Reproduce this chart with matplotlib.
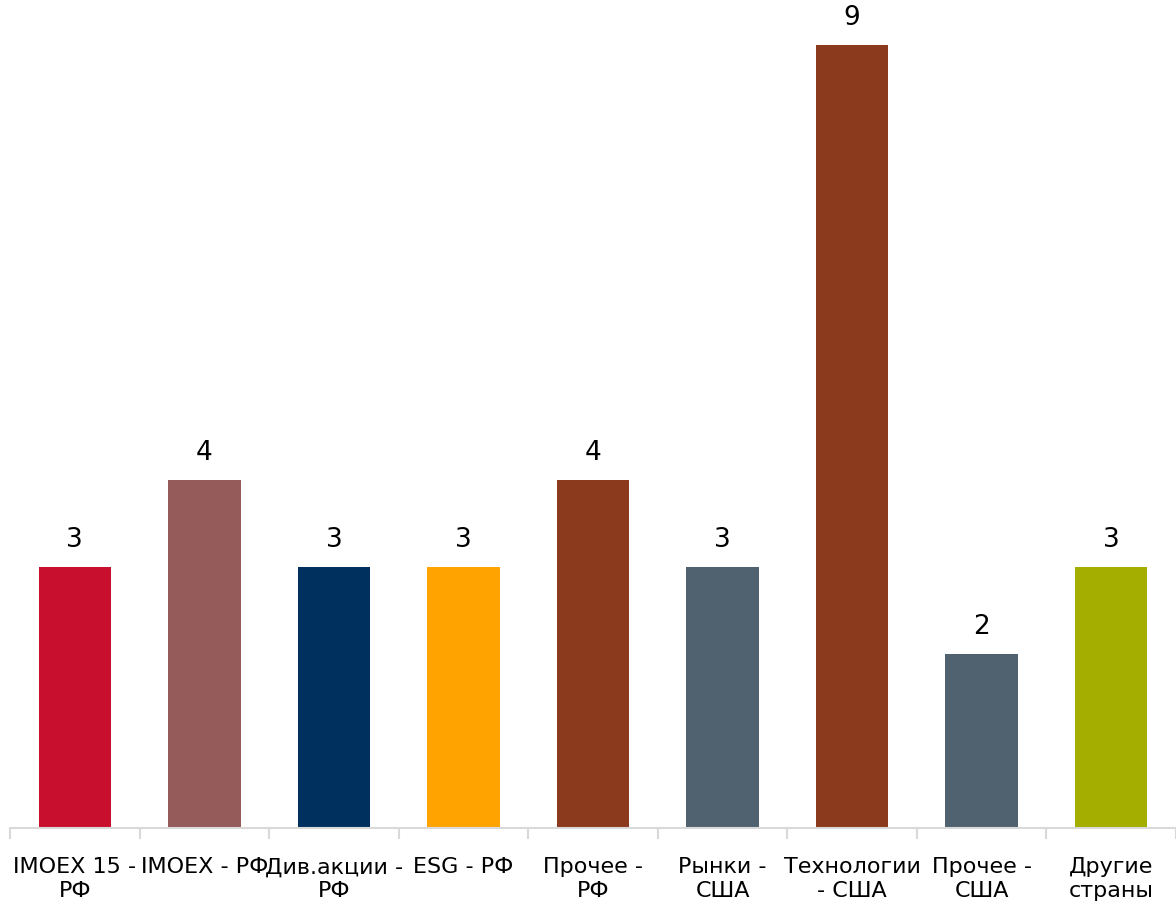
import matplotlib.pyplot as plt

categories = ['IMOEX 15 -\nРФ', 'IMOEX - РФ', 'Див.акции -\nРФ', 'ESG - РФ', 'Прочее -\nРФ',
              'Рынки -\nСША', 'Технологии\n- США', 'Прочее -\nСША', 'Другие\nстраны']
values = [3, 4, 3, 3, 4, 3, 9, 2, 3]
colors = ['#C8102E', '#955A5A', '#00305E', '#FFA300', '#8B3A1E',
          '#50626F', '#8B3A1E', '#50626F', '#A4AE00']

plt.rcParams['font.family'] = ['DejaVu Sans']

fig = plt.figure(figsize=(11.76, 9.05), dpi=100)
ax = fig.add_axes([10 / 1176, 77 / 905, 1 - 10 / 1176, 1 - 77 / 905])

x = list(range(len(values)))
bars = ax.bar(x, values, width=0.56, color=colors)

# value labels on top
for xi, v in zip(x, values):
    ax.text(xi, v + 0.16, str(v), ha='center', va='bottom', fontsize=19, color='#000000')

ax.set_xlim(-0.5, len(values) - 0.5)
ax.set_ylim(0, 9.52)

for s in ['top', 'right', 'left']:
    ax.spines[s].set_visible(False)
ax.spines['bottom'].set_color('#D9D9D9')
ax.spines['bottom'].set_linewidth(1.5)

ax.set_yticks([])
ax.set_xticks([i - 0.5 for i in range(len(values) + 1)])
ax.set_xticklabels([])
ax.set_xticks(x, minor=True)
ax.set_xticklabels(categories, minor=True, fontsize=16, linespacing=1.25)
ax.tick_params(axis='x', which='major', length=8, width=1.5, color='#D9D9D9', direction='out')
ax.tick_params(axis='x', which='minor', length=0, pad=21)

fig.savefig('out.png', dpi=100)
